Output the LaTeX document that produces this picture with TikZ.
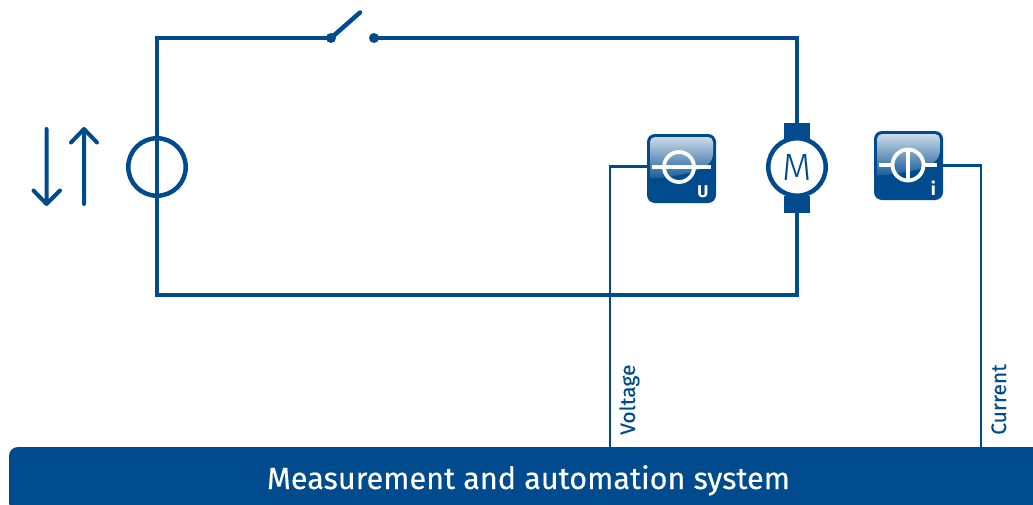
\documentclass[tikz,border=0pt]{standalone}
\usepackage{fontspec}
\setmainfont{Fira Sans}
\newfontfamily\barfont[FakeBold=0.25]{Fira Sans}
\newfontfamily\lightfont[UprightFont={* Light}]{Fira Sans}
\definecolor{kblue}{HTML}{004B8D}
\definecolor{klight}{HTML}{CBDAE9}
\tikzset{
  wire/.style={draw=kblue,line width=4.5pt},
  signal/.style={draw=kblue,line width=2.2pt},
  ring/.style={circle,draw=kblue,line width=4.5pt,fill=none,inner sep=0pt,minimum size=57.5pt},
  iconbox/.style={rectangle,rounded corners=8pt,fill=kblue,draw=none,minimum size=69pt,inner sep=0pt},
  symb/.style={draw=white,line width=3.8pt},
  arrowline/.style={draw=kblue,line width=4pt,line cap=round,line join=round},
  dot/.style={circle,fill=kblue,inner sep=0pt,minimum size=10pt},
  brush/.style={rectangle,fill=kblue,inner sep=0pt,minimum width=26pt,minimum height=17pt},
  gloss/.pic={
    \shade[top color=klight,middle color=klight!58!kblue,bottom color=klight!12!kblue]
      (-31.5,-26) [rounded corners=5pt] -- (-31.5,-31.5) -- (31.5,-31.5) -- (31.5,-10)
      [sharp corners] .. controls (22,2) and (0,8) .. (-31.5,10) -- cycle;
  }
}
\begin{document}
\begin{tikzpicture}[x=1pt,y=-1pt]
\useasboundingbox (0,0) rectangle (1033,504);
% corners of the circuit
\coordinate (tl) at (157,38);
\coordinate (tr) at (797,38);
\coordinate (bl) at (157,295);
\coordinate (br) at (797,295);
% switch
\node[dot] (s1) at (331,38) {};
\node[dot] (s2) at (374,38) {};
\coordinate (blade) at (360,12.5);
% source and motor
\node[ring] (src) at (157,167) {};
\node[brush] (bt) at (797,131.5) {};
\node[brush] (bb) at (797,204.5) {};
\node[ring,fill=white] (mot) at (797,167) {\lightfont\fontsize{38}{38}\selectfont\color{kblue}M};
% circuit
\draw[wire,line join=miter] (s1.center) -- (tl) -- (bl) -- (br) -- (bb.center);
\draw[wire,line join=miter] (s2.center) -- (tr) -- (bt.center);
\draw[draw=kblue,line width=4.5pt,line cap=round] (s1.center) -- (blade);
% arrows
\coordinate (d1) at (46.5,129); \coordinate (d2) at (46.5,204);
\coordinate (u1) at (84,204); \coordinate (u2) at (84,129);
\draw[arrowline] (d1) -- (d2) (33.5,190.5) -- (d2) -- (60,190.5);
\draw[arrowline] (u1) -- (u2) (71,142.5) -- (u2) -- (97,142.5);
% bar
\fill[kblue,rounded corners=9pt] (9,512) -- (9,447) -- (1045,447) -- (1045,512) -- cycle;
\coordinate (barU) at (610,447);
\coordinate (barI) at (981,447);
\node[anchor=base,text=white,inner sep=0pt,font=\barfont\fontsize{30.6}{32}\selectfont] (sys) at (528.5,489) {Measurement and automation system};
% instruments
\node[iconbox] (ui) at (681.5,168.5) {};
\node[iconbox] (ii) at (908.5,165.5) {};
\pic at (ui.center) {gloss};
\pic at (ii.center) {gloss};
% voltage symbol
\draw[symb] (679,167) circle (15);
\draw[symb] (652,167) -- (711,167);
\node[text=white,inner sep=0pt,font=\bfseries\fontsize{17}{17}\selectfont] (ulab) at (703,192) {U};
% current symbol
\draw[symb] (908,165) circle (15.5);
\draw[symb] (908,149) -- (908,181);
\draw[symb] (879,165) -- (893,165) (923,165) -- (937,165);
\node[text=white,inner sep=0pt,font=\bfseries\fontsize{18}{18}\selectfont] (ilab) at (933.5,188.5) {i};
% signals
\draw[signal] (ui.west |- 0,166.5) -- (610,166.5) -- (barU);
\draw[signal] (ii.east |- 0,165.5) -- (981,165.5) -- (barI);
\node[rotate=90,anchor=base west,text=kblue,inner sep=0pt,font=\barfont\fontsize{21}{22}\selectfont] (vt) at (635,435) {Voltage};
\node[rotate=90,anchor=base west,text=kblue,inner sep=0pt,font=\barfont\fontsize{21}{22}\selectfont] (ct) at (1006,435) {Current};
\end{tikzpicture}
\end{document}
